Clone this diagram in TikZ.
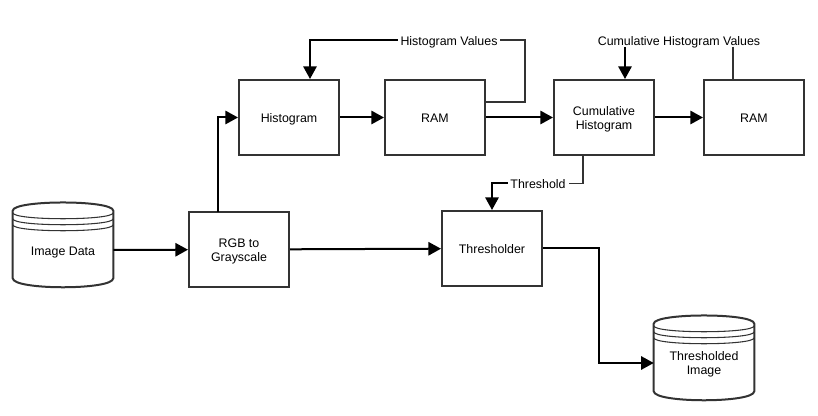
\documentclass[tikz,border=0pt]{standalone}
\usepackage{fontspec}
\setmainfont{Liberation Sans}
\usetikzlibrary{arrows.meta}
\definecolor{edge}{HTML}{333333}
\begin{document}
\begin{tikzpicture}[x=0.75pt,y=-0.75pt]
		\tikzstyle{block}=[rectangle,draw=edge,line width=1.5pt,minimum width=75pt,minimum height=56.25pt,inner sep=2pt,align=center,text height=8.2pt,text depth=0pt,font=\fontsize{9.3}{10.5}\selectfont]
		\tikzstyle{store}=[rectangle,minimum width=75pt,minimum height=55.5pt,inner sep=0pt,align=center,text height=8.2pt,text depth=0pt,font=\fontsize{9.3}{10.5}\selectfont]
		\tikzstyle{two}=[text height=17.3pt]
		\tikzstyle{tag}=[inner sep=2pt,text height=8.2pt,text depth=0pt,font=\fontsize{9.3}{10.5}\selectfont]
		\tikzstyle{flow}=[line width=1.5pt,-{Triangle[length=9.5pt,width=10pt]}]
		\tikzstyle{wire}=[line width=1.2pt,draw=edge]
		\useasboundingbox (0,0) rectangle (818,416);
		\node[block,two] (g_rgb) at (239,249.5) {RGB to\\Grayscale};
		\node[block] (g_hist) at (289,117.5) {Histogram};
		\node[block] (g_ram1) at (435,117.5) {RAM};
		\node[block,two] (g_cum) at (604,117.5) {Cumulative\\Histogram};
		\node[block] (g_ram2) at (754,117.5) {RAM};
		\node[block] (g_thr) at (492,248.5) {Thresholder};
		\node[tag] (t_hist) at (449,40) {Histogram Values};
		\node[tag] (t_cum) at (679,40) {Cumulative Histogram Values};
		\node[tag] (t_thr) at (538,183.5) {Threshold};
		\foreach \name/\pos/\txt/\extra in {s_in/{(63,250)}/{Image Data}/{},s_out/{(704,363)}/{Thresholded\\Image}/two} {
			\node[store,\extra] (\name) at \pos {\txt};
			\draw[edge,line width=1.5pt] ([yshift=1.5pt]\name.north west) .. controls +(0,-11) and +(0,-11) .. ([yshift=1.5pt]\name.north east)
				-- ([yshift=6.75pt]\name.south east) .. controls +(0,12) and +(0,12) .. ([yshift=6.75pt]\name.south west) -- cycle;
			\draw[edge,line width=0.8pt] (\name.north west) .. controls +(0,8) and +(0,8) .. (\name.north east)
				([yshift=-4.5pt]\name.north west) .. controls +(0,8) and +(0,8) .. ([yshift=-4.5pt]\name.north east)
				([yshift=-9pt]\name.north west) .. controls +(0,8) and +(0,8) .. ([yshift=-9pt]\name.north east);
		}
		\coordinate (c_in) at (s_in.east);
		\coordinate (c_rgbup) at (218,212);
		\coordinate (c_ram1) at (485,102);
		\coordinate (c_cumin) at (625,47);
		\coordinate (c_ram2) at (733,47);
		\coordinate (c_cumdown) at (583,155);
		\draw[flow] (c_in) -- (g_rgb);
		\draw[flow] (c_rgbup) |- (g_hist);
		\draw[flow] (g_rgb) -- (g_thr);
		\draw[flow] (g_hist) -- (g_ram1);
		\draw[flow] (g_ram1) -- (g_cum);
		\draw[flow] (g_cum) -- (g_ram2);
		\draw[flow] (t_hist.west) -| (g_hist.north -| 310,0);
		\draw[wire] (c_ram1) -| (525,40) -- (t_hist.east);
		\draw[flow] (c_cumin) -- (c_cumin |- g_cum.north);
		\draw[wire] (c_ram2) -- (c_ram2 |- g_ram2.north);
		\draw[wire] (c_cumdown) |- (t_thr.east);
		\draw[flow] (t_thr.west) -| (g_thr);
		\draw[flow] (g_thr.east) -- ++(56,0) |- (s_out.west);
	\end{tikzpicture}
\end{document}
